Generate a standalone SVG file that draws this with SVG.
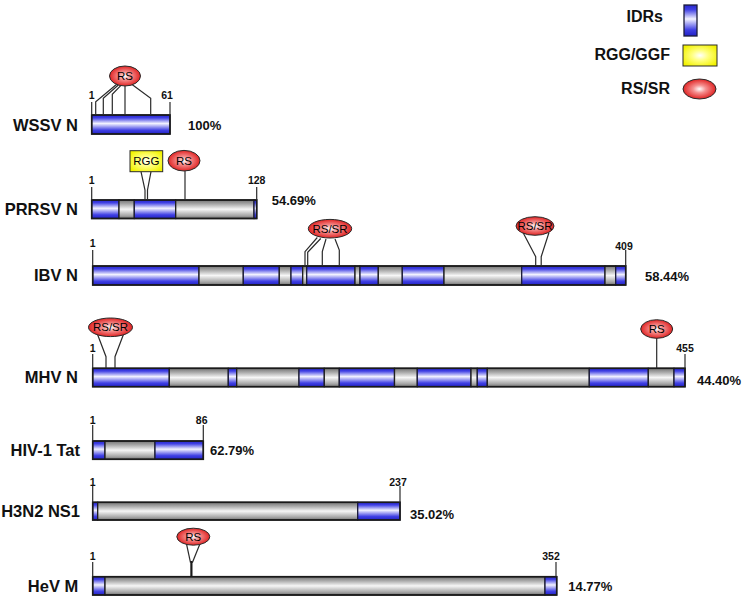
<svg xmlns="http://www.w3.org/2000/svg" width="746" height="602" viewBox="0 0 746 602">
<defs>
<linearGradient id="gB" x1="0" y1="0" x2="0" y2="1">
<stop offset="0" stop-color="#2626cc"/><stop offset="0.15" stop-color="#4040e4"/><stop offset="0.45" stop-color="#f2f2ff"/><stop offset="0.8" stop-color="#4040e4"/><stop offset="1" stop-color="#2222c4"/>
</linearGradient>
<linearGradient id="gG" x1="0" y1="0" x2="0" y2="1">
<stop offset="0" stop-color="#747474"/><stop offset="0.2" stop-color="#a4a4a4"/><stop offset="0.5" stop-color="#f6f6f6"/><stop offset="0.85" stop-color="#a4a4a4"/><stop offset="1" stop-color="#727272"/>
</linearGradient>
<radialGradient id="gR" cx="0.5" cy="0.5" r="0.55">
<stop offset="0" stop-color="#ffffff"/><stop offset="0.35" stop-color="#f59090"/><stop offset="1" stop-color="#dd1212"/>
</radialGradient>
<radialGradient id="gY" cx="0.5" cy="0.5" r="0.6">
<stop offset="0" stop-color="#ffffff"/><stop offset="0.4" stop-color="#ffff80"/><stop offset="1" stop-color="#f2f200"/>
</radialGradient>
<style>
.b{fill:url(#gB);stroke:#1c1c3a;stroke-width:1.3}
.g{fill:url(#gG);stroke:#1e1e1e;stroke-width:1.3}
.o{fill:none;stroke:#1a1a1a;stroke-width:1.6}
.r{fill:url(#gR);stroke:#2a2a2a;stroke-width:1}
.y{fill:url(#gY);stroke:#2a2a2a;stroke-width:1}
.ln{fill:none;stroke:#2a2a2a;stroke-width:1.2}
.lab{font-family:"Liberation Sans",Arial,sans-serif;font-weight:bold;font-size:16.5px;fill:#111;text-anchor:end}
.leg{font-family:"Liberation Sans",Arial,sans-serif;font-weight:bold;font-size:16px;fill:#111;text-anchor:end}
.pc{font-family:"Liberation Sans",Arial,sans-serif;font-weight:bold;font-size:13px;fill:#111}
.num{font-family:"Liberation Sans",Arial,sans-serif;font-weight:bold;font-size:10.5px;fill:#111;text-anchor:middle}
.mt{font-family:"Liberation Sans",Arial,sans-serif;font-size:11.5px;fill:#000;text-anchor:middle}
</style>
</defs>
<rect width="746" height="602" fill="#ffffff"/>

<g id="legend">
<text class="leg" x="663" y="22">IDRs</text>
<rect class="b" x="684" y="5" width="13" height="31"/>
<text class="leg" x="670" y="60">RGG/GGF</text>
<rect class="y" x="683" y="45" width="34" height="21"/>
<text class="leg" x="670" y="94">RS/SR</text>
<ellipse class="r" cx="699.5" cy="89" rx="16.5" ry="10"/>
</g>

<g id="wssv">
<text class="lab" x="78" y="130.8">WSSV N</text>
<rect class="b" x="91.7" y="115" width="78.3" height="19"/>
<rect class="o" x="91.7" y="115" width="78.3" height="19"/>
<line class="ln" x1="91.7" y1="102" x2="91.7" y2="115"/>
<line class="ln" x1="170" y1="102" x2="170" y2="115"/>
<text class="num" x="91.7" y="99">1</text>
<text class="num" x="167" y="99">61</text>
<text class="pc" x="188" y="129.7">100%</text>
</g>

<g id="prrsv">
<text class="lab" x="78" y="215">PRRSV N</text>
<rect class="b" x="91.7" y="200" width="27.3" height="18.5"/>
<rect class="g" x="119" y="200" width="15.3" height="18.5"/>
<rect class="b" x="134.3" y="200" width="41.4" height="18.5"/>
<rect class="g" x="175.7" y="200" width="78.3" height="18.5"/>
<rect class="b" x="254" y="200" width="2.7" height="18.5"/>
<rect class="o" x="91.7" y="200" width="165" height="18.5"/>
<line class="ln" x1="91.7" y1="187" x2="91.7" y2="200"/>
<line class="ln" x1="256.7" y1="187" x2="256.7" y2="200"/>
<text class="num" x="91.7" y="184">1</text>
<text class="num" x="256.7" y="184">128</text>
<text class="pc" x="271.7" y="204.5">54.69%</text>
</g>

<g id="ibv">
<text class="lab" x="78" y="281">IBV N</text>
<rect class="b" x="92.7" y="266" width="106.3" height="19"/>
<rect class="g" x="199" y="266" width="44.3" height="19"/>
<rect class="b" x="243.3" y="266" width="36" height="19"/>
<rect class="g" x="279.3" y="266" width="11.7" height="19"/>
<rect class="b" x="291" y="266" width="11.7" height="19"/>
<rect class="g" x="302.7" y="266" width="4" height="19"/>
<rect class="b" x="306.7" y="266" width="48.3" height="19"/>
<rect class="g" x="355" y="266" width="5" height="19"/>
<rect class="b" x="360" y="266" width="18.3" height="19"/>
<rect class="g" x="378.3" y="266" width="24" height="19"/>
<rect class="b" x="402.3" y="266" width="41.7" height="19"/>
<rect class="g" x="444" y="266" width="77.7" height="19"/>
<rect class="b" x="521.7" y="266" width="83.3" height="19"/>
<rect class="g" x="605" y="266" width="10.7" height="19"/>
<rect class="b" x="615.7" y="266" width="10" height="19"/>
<rect class="o" x="92.7" y="266" width="533" height="19"/>
<line class="ln" x1="92.7" y1="250" x2="92.7" y2="266"/>
<line class="ln" x1="625.7" y1="250" x2="625.7" y2="266"/>
<text class="num" x="92.7" y="247">1</text>
<text class="num" x="624" y="250">409</text>
<text class="pc" x="645" y="281">58.44%</text>
</g>

<g id="mhv">
<text class="lab" x="78" y="383">MHV N</text>
<rect class="b" x="92.7" y="368.3" width="76.6" height="18.4"/>
<rect class="g" x="169.3" y="368.3" width="59" height="18.4"/>
<rect class="b" x="228.3" y="368.3" width="8.4" height="18.4"/>
<rect class="g" x="236.7" y="368.3" width="62.3" height="18.4"/>
<rect class="b" x="299" y="368.3" width="25.3" height="18.4"/>
<rect class="g" x="324.3" y="368.3" width="15" height="18.4"/>
<rect class="b" x="339.3" y="368.3" width="55.2" height="18.4"/>
<rect class="g" x="394.5" y="368.3" width="22.8" height="18.4"/>
<rect class="b" x="417.3" y="368.3" width="53.7" height="18.4"/>
<rect class="g" x="471" y="368.3" width="6.3" height="18.4"/>
<rect class="b" x="477.3" y="368.3" width="10" height="18.4"/>
<rect class="g" x="487.3" y="368.3" width="102" height="18.4"/>
<rect class="b" x="589.3" y="368.3" width="59" height="18.4"/>
<rect class="g" x="648.3" y="368.3" width="25.7" height="18.4"/>
<rect class="b" x="674" y="368.3" width="11" height="18.4"/>
<rect class="o" x="92.7" y="368.3" width="592.3" height="18.4"/>
<line class="ln" x1="92.7" y1="354" x2="92.7" y2="368.3"/>
<line class="ln" x1="685" y1="354" x2="685" y2="368.3"/>
<text class="num" x="92.7" y="352">1</text>
<text class="num" x="685" y="352">455</text>
<text class="pc" x="697" y="384.5">44.40%</text>
</g>

<g id="hiv">
<text class="lab" x="80" y="456.4">HIV-1 Tat</text>
<rect class="b" x="92.7" y="441" width="12.3" height="18.3"/>
<rect class="g" x="105" y="441" width="50" height="18.3"/>
<rect class="b" x="155" y="441" width="48.3" height="18.3"/>
<rect class="o" x="92.7" y="441" width="110.6" height="18.3"/>
<line class="ln" x1="92.7" y1="425" x2="92.7" y2="441"/>
<line class="ln" x1="203.3" y1="425" x2="203.3" y2="441"/>
<text class="num" x="92.7" y="424">1</text>
<text class="num" x="201.7" y="424">86</text>
<text class="pc" x="210" y="454.8">62.79%</text>
</g>

<g id="h3n2">
<text class="lab" x="80" y="517">H3N2 NS1</text>
<rect class="b" x="92.7" y="502.3" width="5" height="17.7"/>
<rect class="g" x="97.7" y="502.3" width="260" height="17.7"/>
<rect class="b" x="357.7" y="502.3" width="42.3" height="17.7"/>
<rect class="o" x="92.7" y="502.3" width="307.3" height="17.7"/>
<line class="ln" x1="92.7" y1="486" x2="92.7" y2="502.3"/>
<line class="ln" x1="400" y1="486" x2="400" y2="502.3"/>
<text class="num" x="92.7" y="485.5">1</text>
<text class="num" x="398" y="485.5">237</text>
<text class="pc" x="410" y="518.5">35.02%</text>
</g>

<g id="hev">
<text class="lab" x="78.3" y="591.5">HeV M</text>
<rect class="b" x="92.7" y="576.7" width="12.3" height="18.3"/>
<rect class="g" x="105" y="576.7" width="440" height="18.3"/>
<rect class="b" x="545" y="576.7" width="11.7" height="18.3"/>
<rect class="o" x="92.7" y="576.7" width="464" height="18.3"/>
<line class="ln" x1="92.7" y1="562" x2="92.7" y2="576.7"/>
<line class="ln" x1="556" y1="562" x2="556" y2="576.7"/>
<text class="num" x="92.7" y="560">1</text>
<text class="num" x="551" y="560">352</text>
<text class="pc" x="568.3" y="591">14.77%</text>
</g>

<g id="connectors">
<polyline class="ln" points="116.7,84.3 95.7,101.7 95.7,115"/>
<polyline class="ln" points="118.3,85 103.3,98.3 103.3,115"/>
<polyline class="ln" points="120.7,85.7 112.3,94.3 112.3,115"/>
<polyline class="ln" points="125,85.7 125,115"/>
<polyline class="ln" points="131.7,84.3 150.7,98.3 150.7,115"/>

<polyline class="ln" points="141,171.7 145,190 145,200"/>
<polyline class="ln" points="151,171.7 147.5,190 147.5,200"/>
<line class="ln" x1="185" y1="171" x2="185" y2="200"/>

<polyline class="ln" points="317.3,237.5 305,251.7 305,266"/>
<polyline class="ln" points="320.7,238.5 307.7,252.3 307.7,266"/>
<polyline class="ln" points="326,239 322.3,251.7 322.3,266"/>
<polyline class="ln" points="335,239 339.3,250 339.3,266"/>

<polyline class="ln" points="523,232.5 535.7,256.7 535.7,266"/>
<polyline class="ln" points="549,232.5 541.2,256.7 541.2,266"/>

<polyline class="ln" points="97,333 106,356.7 106,368.3"/>
<polyline class="ln" points="124,333 115,356.7 115,368.3"/>
<line class="ln" x1="656.7" y1="338" x2="656.7" y2="368.3"/>

<polyline class="ln" points="186.5,543.8 190.5,562.7"/>
<polyline class="ln" points="200,543.8 192.3,562.7"/>
<line stroke="#1a1a1a" stroke-width="2.2" x1="191.4" y1="561" x2="191.4" y2="576.7"/>
</g>

<g id="motifs">
<ellipse class="r" cx="125" cy="76" rx="15.5" ry="10"/>
<text class="mt" x="125" y="80">RS</text>

<rect class="y" x="130" y="150.7" width="32.7" height="21"/>
<text class="mt" x="146.3" y="165">RGG</text>
<ellipse class="r" cx="184" cy="160.7" rx="16" ry="10.3"/>
<text class="mt" x="184" y="164.7">RS</text>

<ellipse class="r" cx="330" cy="228.7" rx="21.7" ry="9.3"/>
<text class="mt" x="330" y="232.7">RS/SR</text>
<ellipse class="r" cx="535" cy="226" rx="19" ry="9.3"/>
<text class="mt" x="535" y="230">RS/SR</text>

<ellipse class="r" cx="110.5" cy="327.3" rx="22" ry="9.3"/>
<text class="mt" x="110.5" y="331.3">RS/SR</text>
<ellipse class="r" cx="656.7" cy="329" rx="16" ry="9.3"/>
<text class="mt" x="656.7" y="333">RS</text>

<ellipse class="r" cx="193.3" cy="536.7" rx="16.5" ry="8.5"/>
<text class="mt" x="193.3" y="540.5">RS</text>
</g>
</svg>
